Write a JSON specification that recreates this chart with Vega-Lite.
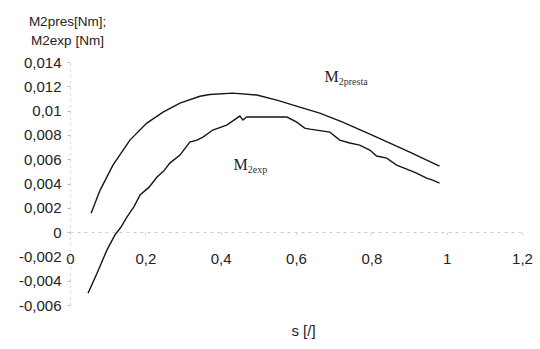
{
  "$schema": "https://vega.github.io/schema/vega-lite/v6.json",
  "autosize": {"type": "none"},
  "padding": {"left": 70, "top": 62, "right": 18, "bottom": 44},
  "width": 452,
  "height": 243,
  "background": "white",
  "config": {
    "view": {"stroke": null},
    "font": "Liberation Sans"
  },
  "datasets": {
    "curves": [
      {"s": 0.056, "m": 0.00156, "series": "M2presta"},
      {"s": 0.080, "m": 0.00346, "series": "M2presta"},
      {"s": 0.114, "m": 0.00551, "series": "M2presta"},
      {"s": 0.159, "m": 0.00757, "series": "M2presta"},
      {"s": 0.204, "m": 0.00897, "series": "M2presta"},
      {"s": 0.247, "m": 0.00988, "series": "M2presta"},
      {"s": 0.292, "m": 0.01062, "series": "M2presta"},
      {"s": 0.345, "m": 0.01118, "series": "M2presta"},
      {"s": 0.371, "m": 0.01133, "series": "M2presta"},
      {"s": 0.432, "m": 0.01144, "series": "M2presta"},
      {"s": 0.496, "m": 0.01128, "series": "M2presta"},
      {"s": 0.549, "m": 0.01086, "series": "M2presta"},
      {"s": 0.610, "m": 0.01029, "series": "M2presta"},
      {"s": 0.663, "m": 0.00979, "series": "M2presta"},
      {"s": 0.724, "m": 0.00905, "series": "M2presta"},
      {"s": 0.814, "m": 0.00782, "series": "M2presta"},
      {"s": 0.902, "m": 0.00658, "series": "M2presta"},
      {"s": 0.981, "m": 0.00543, "series": "M2presta"},
      {"s": 0.048, "m": -0.00502, "series": "M2exp"},
      {"s": 0.072, "m": -0.00337, "series": "M2exp"},
      {"s": 0.098, "m": -0.00148, "series": "M2exp"},
      {"s": 0.119, "m": -0.00025, "series": "M2exp"},
      {"s": 0.135, "m": 0.00040, "series": "M2exp"},
      {"s": 0.151, "m": 0.00123, "series": "M2exp"},
      {"s": 0.170, "m": 0.00210, "series": "M2exp"},
      {"s": 0.186, "m": 0.00305, "series": "M2exp"},
      {"s": 0.210, "m": 0.00370, "series": "M2exp"},
      {"s": 0.231, "m": 0.00453, "series": "M2exp"},
      {"s": 0.248, "m": 0.00500, "series": "M2exp"},
      {"s": 0.265, "m": 0.00568, "series": "M2exp"},
      {"s": 0.292, "m": 0.00634, "series": "M2exp"},
      {"s": 0.318, "m": 0.00741, "series": "M2exp"},
      {"s": 0.337, "m": 0.00757, "series": "M2exp"},
      {"s": 0.353, "m": 0.00782, "series": "M2exp"},
      {"s": 0.379, "m": 0.00840, "series": "M2exp"},
      {"s": 0.416, "m": 0.00881, "series": "M2exp"},
      {"s": 0.443, "m": 0.00938, "series": "M2exp"},
      {"s": 0.451, "m": 0.00955, "series": "M2exp"},
      {"s": 0.459, "m": 0.00922, "series": "M2exp"},
      {"s": 0.469, "m": 0.00947, "series": "M2exp"},
      {"s": 0.496, "m": 0.00947, "series": "M2exp"},
      {"s": 0.576, "m": 0.00947, "series": "M2exp"},
      {"s": 0.602, "m": 0.00905, "series": "M2exp"},
      {"s": 0.623, "m": 0.00856, "series": "M2exp"},
      {"s": 0.637, "m": 0.00848, "series": "M2exp"},
      {"s": 0.690, "m": 0.00823, "series": "M2exp"},
      {"s": 0.716, "m": 0.00757, "series": "M2exp"},
      {"s": 0.743, "m": 0.00733, "series": "M2exp"},
      {"s": 0.769, "m": 0.00716, "series": "M2exp"},
      {"s": 0.796, "m": 0.00675, "series": "M2exp"},
      {"s": 0.814, "m": 0.00626, "series": "M2exp"},
      {"s": 0.841, "m": 0.00609, "series": "M2exp"},
      {"s": 0.867, "m": 0.00551, "series": "M2exp"},
      {"s": 0.894, "m": 0.00519, "series": "M2exp"},
      {"s": 0.920, "m": 0.00486, "series": "M2exp"},
      {"s": 0.947, "m": 0.00444, "series": "M2exp"},
      {"s": 0.963, "m": 0.00428, "series": "M2exp"},
      {"s": 0.981, "m": 0.00403, "series": "M2exp"}
    ],
    "labels": [
      {"s": 0.7135, "m": 0.01235, "main": "M", "sub": "2presta"},
      {"s": 0.472, "m": 0.0051, "main": "M", "sub": "2exp"}
    ]
  },
  "layer": [
    {
      "data": {"name": "curves"},
      "mark": {"type": "line", "color": "#161616", "strokeWidth": 1.4, "clip": false},
      "encoding": {
        "x": {
          "field": "s", "type": "quantitative",
          "scale": {"domain": [0, 1.2], "nice": false, "zero": false},
          "axis": {
            "values": [0, 0.2, 0.4, 0.6, 0.8, 1, 1.2],
            "tickCount": 20,
            "offset": -72.9,
            "title": "s [/]",
            "titleFont": "Liberation Sans",
            "titleFontSize": 15,
            "titleFontWeight": "normal",
            "titleColor": "#222",
            "titleBaseline": "middle",
            "titleY": 98,
            "titleX": 233,
            "labelFont": "Liberation Sans",
            "labelFontSize": 15,
            "labelColor": "#222",
            "labelPadding": 17,
            "labelFlush": false,
            "labelOverlap": false,
            "labelExpr": "replace(format(datum.value, '.1~f'), '.', ',')",
            "grid": false,
            "domainColor": "#c8c8c8",
            "domainDash": [3, 4],
            "domainWidth": 1,
            "tickColor": "#cccccc",
            "tickSize": 2
          }
        },
        "y": {
          "field": "m", "type": "quantitative",
          "scale": {"domain": [-0.006, 0.014], "nice": false, "zero": false},
          "axis": {
            "values": [-0.006, -0.004, -0.002, 0, 0.002, 0.004, 0.006, 0.008, 0.01, 0.012, 0.014],
            "tickCount": 20,
            "title": ["M2pres[Nm];", "M2exp [Nm]"],
            "titleAngle": 0,
            "titleAlign": "center",
            "titleBaseline": "top",
            "titleX": -3,
            "titleY": -48,
            "titleLineHeight": 19,
            "titleFont": "Liberation Sans",
            "titleFontSize": 13.5,
            "titleFontWeight": "normal",
            "titleColor": "#222",
            "labelFont": "Liberation Sans",
            "labelFontSize": 15,
            "labelColor": "#222",
            "labelPadding": 6,
            "labelOverlap": false,
            "labelFlush": false,
            "labelExpr": "replace(replace(format(datum.value, '.3~f'), '.', ','), '\u2212', '-')",
            "grid": false,
            "domainColor": "#d0d0d0",
            "domainDash": [2, 4],
            "tickColor": "#bbbbbb",
            "tickSize": 3
          }
        },
        "detail": {"field": "series", "type": "nominal"}
      }
    },
    {
      "data": {"name": "labels"},
      "mark": {"type": "text", "align": "right", "baseline": "alphabetic", "font": "Liberation Serif", "fontSize": 16, "color": "#222"},
      "encoding": {
        "x": {"field": "s", "type": "quantitative"},
        "y": {"field": "m", "type": "quantitative"},
        "text": {"field": "main"}
      }
    },
    {
      "data": {"name": "labels"},
      "mark": {"type": "text", "align": "left", "baseline": "alphabetic", "font": "Liberation Serif", "fontSize": 10, "dy": 3, "color": "#333"},
      "encoding": {
        "x": {"field": "s", "type": "quantitative"},
        "y": {"field": "m", "type": "quantitative"},
        "text": {"field": "sub"}
      }
    }
  ]
}
